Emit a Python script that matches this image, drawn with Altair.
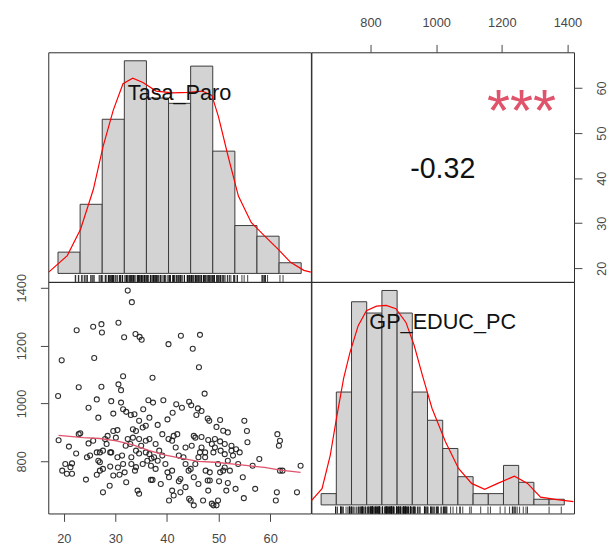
import altair as alt
import pandas as pd

# Scatter observations: unemployment rate vs. education spending per capita
tasa_paro = [
    32.4, 33.2, 22.5, 25.7, 27.3, 27.4, 30.6, 31.7, 33.9, 34.7,
    35.1, 25.9, 19.6, 42.7, 40.3, 45.0, 46.4, 46.2, 37.2, 31.5,
    22.9, 27.3, 30.6, 31.1, 18.9, 47.3, 26.4, 24.8, 26.7, 29.2,
    29.6, 31.1, 31.5, 32.1, 33.0, 33.7, 33.4, 34.6, 35.4, 36.4,
    37.3, 39.3, 40.1, 41.1, 41.8, 42.9, 44.3, 44.7, 46.0, 45.7,
    46.7, 47.9, 48.2, 50.3, 49.6, 55.0, 55.5, 50.9, 51.8, 36.6,
    35.9, 38.2, 39.1, 40.3, 41.3, 42.0, 45.2, 45.5, 46.7, 48.0,
    49.3, 50.3, 51.2, 52.5, 53.4, 54.1, 55.6, 61.4, 61.9, 61.7,
    65.9, 65.2, 61.3, 61.1, 61.9, 62.4, 56.6, 57.9, 57.1, 54.7,
    54.9, 53.3, 51.8, 51.5, 50.1, 50.3, 48.3, 47.9, 49.0, 48.7,
    49.6, 47.0, 45.2, 44.6, 44.3, 42.6, 42.3, 41.0, 41.3, 40.4,
    38.8, 37.2, 36.9, 34.6, 34.3, 32.1, 31.8, 29.6, 28.9, 27.6,
    24.3, 26.4, 20.6, 19.7, 20.3, 21.3, 21.6, 21.6, 22.4, 21.0,
    19.0, 22.9, 23.2, 24.8, 25.7, 26.4, 26.7, 27.0, 27.6, 28.3,
    28.5, 29.0, 29.2, 30.1, 30.4, 29.0, 30.5, 30.8, 31.5, 32.0,
    32.4, 32.9, 33.1, 34.0, 34.6, 35.0, 35.9, 35.3, 36.2, 36.6,
    36.9, 37.5, 37.8, 38.2, 38.5, 39.1, 39.7, 40.1, 40.4, 41.0,
    41.7, 42.3, 43.2, 43.6, 44.2, 44.6, 45.5, 46.1, 46.4, 47.4,
    47.5, 48.3, 49.0, 49.3, 50.4, 51.2, 51.8, 52.2, 52.5, 48.0,
    49.9, 46.1, 45.2, 43.6, 42.6, 37.0, 35.9, 33.1, 33.8, 34.0,
    30.4, 31.3, 27.0, 27.6, 24.5, 25.1, 28.0, 29.6, 27.0, 33.4,
    34.0, 35.3, 34.6, 36.6, 37.8, 41.0, 43.6, 44.8, 46.7, 48.7,
    47.4, 49.9, 50.9, 53.8, 52.8, 51.2,
]
gp_educ_pc = [
    1390, 1350, 1253, 1265, 1274, 1245, 1279, 1229, 1240, 1230,
    1220, 1157, 1149, 1234, 1205, 1189, 1237, 1125, 1089, 1094,
    1056, 1058, 1066, 1046, 1026, 1034, 1014, 985, 951, 1008,
    965, 1003, 980, 971, 960, 963, 911, 940, 980, 1011,
    1003, 1011, 945, 968, 997, 985, 1006, 994, 983, 960,
    974, 948, 940, 943, 919, 940, 905, 906, 900, 951,
    923, 926, 894, 877, 888, 894, 888, 882, 884, 874,
    877, 869, 860, 854, 842, 831, 866, 894, 871, 854,
    785, 693, 693, 665, 768, 768, 785, 808, 705, 745,
    673, 705, 725, 699, 731, 762, 734, 734, 648, 654,
    648, 665, 648, 665, 671, 739, 731, 699, 682, 665,
    722, 736, 736, 688, 699, 728, 762, 751, 716, 693,
    737, 754, 757, 768, 791, 780, 757, 793, 827, 851,
    873, 894, 897, 862, 871, 831, 802, 797, 837, 860,
    888, 831, 831, 882, 908, 782, 779, 754, 791, 854,
    877, 860, 814, 837, 827, 854, 871, 791, 802, 825,
    785, 814, 774, 802, 837, 820, 791, 762, 745, 768,
    848, 820, 814, 791, 768, 774, 791, 814, 831, 831,
    768, 762, 831, 848, 837, 825, 802, 768, 837, 699,
    665, 722, 745, 711, 693, 810, 831, 791, 768, 780,
    814, 820, 768, 774, 814, 820, 877, 905, 831, 882,
    905, 917, 877, 877, 860, 871, 848, 854, 848, 860,
    814, 791, 768, 791, 820, 779,
]

# Histogram breaks and counts for the diagonal panels
tasa_breaks = [15, 20, 25, 30, 35, 40, 45, 50, 55, 60, 65, 70]
tasa_counts = [4, 13, 29, 40, 33, 32, 39, 23, 9, 7, 2]
gp_breaks = [600, 650, 700, 750, 800, 850, 900, 950, 1000, 1050,
             1100, 1150, 1200, 1250, 1300, 1350, 1400]
gp_counts = [2, 20, 36, 34, 38, 34, 20, 15, 10, 5, 2, 2, 7, 4, 1, 1]

# Kernel density estimates
tasa_kde_x = [12.9, 17.1, 20.1, 23.0, 25.2, 27.5, 29.7, 31.9, 34.2, 37.2, 40.9, 44.6,
              47.6, 49.8, 51.3, 53.5, 55.8, 58.7, 61.7, 64.7, 67.6, 70.6, 72.2]
tasa_kde_y = [0.0002, 0.0029, 0.0072, 0.0137, 0.0207, 0.0266, 0.0309, 0.0318, 0.0311,
              0.0297, 0.0294, 0.0295, 0.0297, 0.0290, 0.0255, 0.0190, 0.0126, 0.0083,
              0.0061, 0.0040, 0.0018, 0.0005, 0.0002]
gp_kde_x = [565, 603, 630, 652, 674, 695, 722, 749, 782, 814, 846, 879, 906, 933, 965,
            1009, 1052, 1095, 1138, 1181, 1236, 1279, 1322, 1376, 1430]
gp_kde_y = [0.00005, 0.00025, 0.00076, 0.00137, 0.00194, 0.00234, 0.00275, 0.00298,
            0.00305, 0.00306, 0.00301, 0.00280, 0.00245, 0.00199, 0.00148, 0.00097,
            0.00056, 0.00033, 0.00024, 0.00033, 0.00044, 0.00033, 0.00012, 0.00008,
            0.00005]

# Smoothed trend through the scatter
smooth_x = [19.0, 23.8, 27.0, 30.2, 33.4, 36.6, 39.7, 42.9, 46.1, 49.3, 52.5, 55.7, 58.9, 62.0, 65.9]
smooth_y = [890, 882, 879, 871, 857, 837, 822, 810, 800, 797, 791, 785, 779, 770, 762]

corr_text = "-0.32"
signif_text = "***"

W = 266.5
H_TOP, H_BOT = 233, 235
TASA_DOMAIN = [17.0, 67.9]
GP_DOMAIN = [620, 1420]
FONT = "Liberation Sans"

scatter_df = pd.DataFrame({"tasa": tasa_paro, "gp": gp_educ_pc})

axis_style = dict(domain=False, grid=False, title=None, tickSize=8, tickColor="#444444",
                  tickWidth=1, labelFont=FONT, labelFontSize=13, labelColor="#474747",
                  format="d")


def lin(domain):
    return alt.Scale(domain=domain, nice=False, zero=False)


def diag_panel(breaks, counts, kde_x, kde_y, values, label, h):
    n = sum(counts)
    bw = breaks[1] - breaks[0]
    dens = [c / (n * bw) for c in counts]
    hf = pd.DataFrame({"lo": breaks[:-1], "hi": breaks[1:], "dens": dens, "base": 0.0})
    span = breaks[-1] - breaks[0]
    xs = lin([breaks[0] - 0.04 * span, breaks[-1] + 0.04 * span])
    top = max(dens)
    ys = lin([-0.04 * top, 1.04 * top])

    bars = alt.Chart(hf).mark_rect(fill="#D3D3D3", stroke="#3a3a3a", strokeWidth=1).encode(
        x=alt.X("lo:Q", scale=xs, axis=None), x2="hi:Q",
        y=alt.Y("dens:Q", scale=ys, axis=None), y2="base:Q")
    curve = alt.Chart(pd.DataFrame({"x": kde_x, "d": kde_y})).mark_line(
        color="#FF0000", strokeWidth=1.2, clip=True).encode(
        x=alt.X("x:Q", scale=xs, axis=None), y=alt.Y("d:Q", scale=ys, axis=None))
    rug = alt.Chart(pd.DataFrame({"v": values})).mark_rule(color="#111111", strokeWidth=0.8).encode(
        x=alt.X("v:Q", scale=xs, axis=None), y=alt.value(h), y2=alt.value(h - 7))
    name = alt.Chart(pd.DataFrame({"t": [label]})).mark_text(
        font=FONT, fontSize=22, color="#111111", align="center", baseline="alphabetic").encode(
        x=alt.value(W / 2), y=alt.value(48), text="t:N")
    return alt.layer(bars, curve, rug, name).properties(width=W, height=h)


top_left = diag_panel(tasa_breaks, tasa_counts, tasa_kde_x, tasa_kde_y, tasa_paro, "Tasa_Paro", H_TOP)
bottom_right = diag_panel(gp_breaks, gp_counts, gp_kde_x, gp_kde_y, gp_educ_pc, "GP_EDUC_PC", H_BOT)

# Upper panel: correlation coefficient and significance stars
carrier = alt.Chart(scatter_df).mark_point(opacity=0).encode(
    x=alt.X("gp:Q", scale=lin(GP_DOMAIN),
            axis=alt.Axis(orient="top", values=[800, 1000, 1200, 1400], labelPadding=15,
                          **axis_style)),
    y=alt.Y("tasa:Q", scale=lin(TASA_DOMAIN),
            axis=alt.Axis(orient="right", values=[20, 30, 40, 50, 60], labelAngle=270,
                          labelAlign="center", labelBaseline="top", labelPadding=14,
                          **axis_style)))
unit = lin([0, 1])
corr = alt.Chart(pd.DataFrame({"u": [0.5], "v": [0.5], "t": [corr_text]})).mark_text(
    font=FONT, fontSize=29, color="#111111", align="center", baseline="alphabetic", dy=11).encode(
    x=alt.X("u:Q", scale=unit, axis=None), y=alt.Y("v:Q", scale=unit, axis=None), text="t:N")
stars = alt.Chart(pd.DataFrame({"u": [0.8], "v": [0.8], "t": [signif_text]})).mark_text(
    font=FONT, fontSize=60, color="#DF536B", align="center", baseline="alphabetic", dy=33).encode(
    x=alt.X("u:Q", scale=unit, axis=None), y=alt.Y("v:Q", scale=unit, axis=None), text="t:N")
top_right = alt.layer(carrier, corr, stars).resolve_scale(
    x="independent", y="independent").properties(width=W, height=H_TOP)

# Lower panel: scatter with smoother
points = alt.Chart(scatter_df).mark_point(
    shape="circle", filled=False, size=26, color="#1a1a1a", strokeWidth=1.1, opacity=0.9).encode(
    x=alt.X("tasa:Q", scale=lin(TASA_DOMAIN),
            axis=alt.Axis(orient="bottom", values=[20, 30, 40, 50, 60], labelPadding=11,
                          **axis_style)),
    y=alt.Y("gp:Q", scale=lin(GP_DOMAIN),
            axis=alt.Axis(orient="left", values=[800, 1000, 1200, 1400], labelAngle=270,
                          labelAlign="center", labelBaseline="bottom", labelPadding=12,
                          **axis_style)))
smooth = alt.Chart(pd.DataFrame({"x": smooth_x, "y": smooth_y})).mark_line(
    color="#DF536B", strokeWidth=1.3).encode(
    x=alt.X("x:Q", scale=lin(TASA_DOMAIN)), y=alt.Y("y:Q", scale=lin(GP_DOMAIN)))
bottom_left = alt.layer(points, smooth).properties(width=W, height=H_BOT)

chart = alt.concat(
    top_left, top_right, bottom_left, bottom_right,
    columns=2, spacing=0, bounds="flush", align="each",
).configure_view(
    stroke="#2b2b2b", strokeWidth=1
).properties(
    padding={"left": 15, "top": 12, "right": 0, "bottom": 0},
    background="white",
)

chart.save("out.html", embed_options={"renderer": "svg", "actions": False})
